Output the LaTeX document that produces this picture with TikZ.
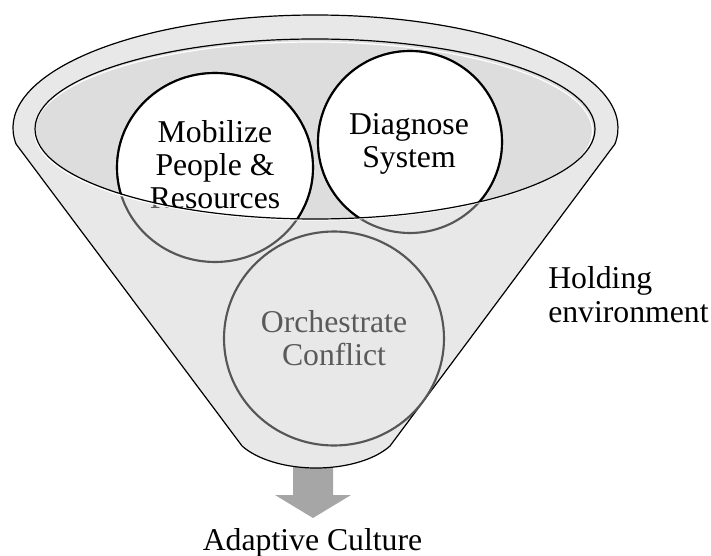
\documentclass[tikz,border=0pt]{standalone}
\usepackage{fontspec}
\setmainfont{Liberation Serif}
\definecolor{funnelfill}{HTML}{E8E8E8}
\definecolor{mouthfill}{HTML}{DDDDDD}
\definecolor{rimgray}{HTML}{565656}
\definecolor{softtext}{HTML}{5A5A5A}
\definecolor{arrowgray}{HTML}{A6A6A6}
\begin{document}
\begin{tikzpicture}[x=0.75pt,y=-0.75pt,
  lbl/.style={font=\fontsize{23.8}{24.75}\selectfont, align=center, anchor=base, inner sep=0pt},
  rim/.style={line width=1.6pt},
  edge/.style={line width=0.9pt, draw=black}]
\useasboundingbox (0,0) rectangle (711,556);

% centres of the funnel mouth and of the three circles
\coordinate (mouth) at (315,129);
\coordinate (mob) at (215,167.5);
\coordinate (dia) at (410,142);
\coordinate (orc) at (334,338.5);
\coordinate (spout) at (313,464);

% output arrow below the spout
\fill[arrowgray, shift={(313,464)}]
  (-20,0) -- (20,0) -- (20,31) -- (38,31) -- (0,54) -- (-38,31) -- (-20,31) -- cycle;

% funnel body
\draw[edge, fill=funnelfill]
  (16.05,144) arc[start angle=171.86, end angle=368.14, x radius=302.5, y radius=113]
  -- (390,446) arc[start angle=30, end angle=150, x radius=85.4, y radius=44] -- cycle;

% funnel mouth
\fill[mouthfill] (mouth) ellipse [x radius=280, y radius=90];

% circles as seen through the funnel wall
% (multi-line labels are anchored at the baseline of their last line)
\draw[rim, rimgray] (mob) ellipse [x radius=98, y radius=94.5];
\draw[rim, rimgray] (dia) ellipse [x radius=92, y radius=91];
\draw[rim, rimgray] (orc) ellipse [x radius=110, y radius=107];
\node[lbl, text=softtext] (mobtxt) at (215,209) {Mobilize\\People \&\\Resources};
\node[lbl, text=softtext] (diatxt) at (409,168) {Diagnose\\System};
\node[lbl, text=softtext] (orctxt) at (334,365) {Orchestrate\\Conflict};

% the parts inside the mouth
\begin{scope}
  \clip (mouth) ellipse [x radius=280, y radius=90];
  \draw[rim, fill=white, draw=black] (mob) ellipse [x radius=98, y radius=94.5];
  \draw[rim, fill=white, draw=black] (dia) ellipse [x radius=92, y radius=91];
  \node[lbl] at (215,209) {Mobilize\\People \&\\Resources};
  \node[lbl] at (409,168) {Diagnose\\System};
\end{scope}

% rim of the mouth with a light highlight
\draw[white, line width=0.9pt] (313.5,131) ellipse [x radius=279, y radius=89];
\draw[edge] (mouth) ellipse [x radius=280, y radius=90];

% side labels
\node[lbl, anchor=base west, align=left] (hold) at (548,322) {Holding\\environment};
\node[lbl] (adapt) at (312.5,550) {Adaptive Culture};
\end{tikzpicture}
\end{document}
